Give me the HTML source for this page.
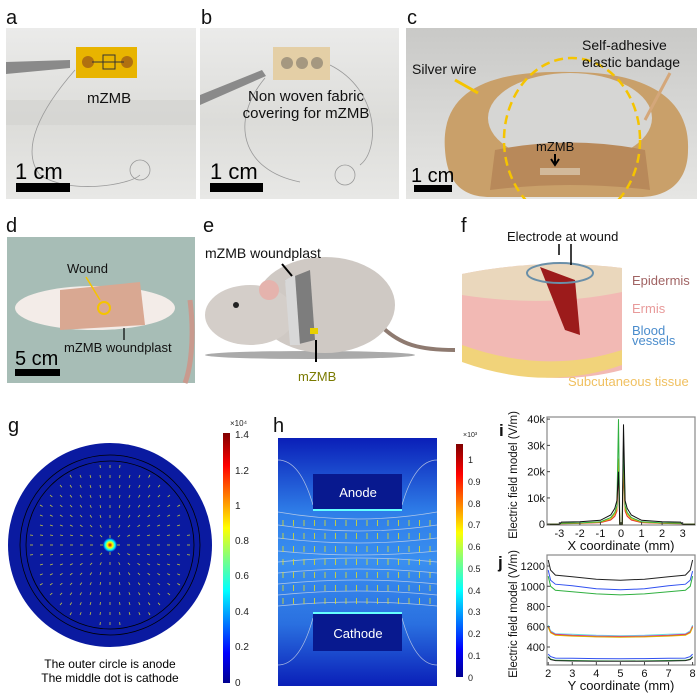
<!DOCTYPE html>
<html><head><meta charset="utf-8">
<style>
body{margin:0;background:#fff;}
svg{display:block;font-family:"Liberation Sans",Arial,sans-serif;}
</style></head>
<body>
<svg id="fig" width="700" height="694" viewBox="0 0 700 694" xmlns="http://www.w3.org/2000/svg">
<defs>
<linearGradient id="jet" x1="0" y1="1" x2="0" y2="0">
<stop offset="0" stop-color="#00008f"/><stop offset="0.12" stop-color="#0000ff"/><stop offset="0.37" stop-color="#00ffff"/><stop offset="0.5" stop-color="#7fff7f"/><stop offset="0.62" stop-color="#ffff00"/><stop offset="0.87" stop-color="#ff0000"/><stop offset="1" stop-color="#800000"/>
</linearGradient>
<linearGradient id="hfield" x1="0" y1="0" x2="0" y2="1">
<stop offset="0" stop-color="#0a1fb8"/><stop offset="0.3" stop-color="#2f7ee8"/><stop offset="0.5" stop-color="#3a8ff0"/><stop offset="0.75" stop-color="#2a70e0"/><stop offset="1" stop-color="#0a1fb8"/>
</linearGradient>
<linearGradient id="photoA" x1="0" y1="0" x2="0" y2="1"><stop offset="0" stop-color="#ebebea"/><stop offset="0.55" stop-color="#dcdcd9"/><stop offset="1" stop-color="#e8e8e6"/></linearGradient>
<linearGradient id="photoC" x1="0" y1="0" x2="0" y2="1"><stop offset="0" stop-color="#c9c9c7"/><stop offset="1" stop-color="#e6e6e4"/></linearGradient>
<radialGradient id="dot"><stop offset="0" stop-color="#c00"/><stop offset="0.4" stop-color="#ff0"/><stop offset="0.7" stop-color="#0ff"/><stop offset="1" stop-color="#0a1fb8"/></radialGradient>
<clipPath id="clipC"><rect x="406" y="28" width="291" height="171"/></clipPath>
</defs>

<!-- Panel labels -->
<g font-size="20" fill="#111">
<text x="6" y="24">a</text><text x="201" y="24">b</text><text x="407" y="24">c</text>
<text x="6" y="232">d</text><text x="203" y="232">e</text><text x="461" y="232">f</text>
<text x="8" y="432">g</text><text x="273" y="432">h</text>
<text x="499" y="436" font-size="17" font-weight="bold">i</text><text x="498" y="568" font-size="17" font-weight="bold">j</text>
</g>

<!-- Panel a -->
<g>
<rect x="6" y="28" width="190" height="171" fill="url(#photoA)"/>
<rect x="6" y="100" width="190" height="25" fill="#d2d2cf" opacity="0.6"/>
<path d="M6 62 L70 60 L70 68 L6 74 Z" fill="#8a8a8a"/>
<path d="M75 70 C40 110,20 150,40 175 C70 195,130 185,140 175" fill="none" stroke="#999" stroke-width="0.8"/>
<circle cx="140" cy="170" r="10" fill="none" stroke="#999" stroke-width="0.8"/>
<rect x="76" y="47" width="61" height="31" fill="#e8b400"/>
<circle cx="88" cy="62" r="6" fill="#b07010"/><circle cx="127" cy="62" r="6" fill="#b07010"/>
<rect x="103" y="55" width="12" height="14" fill="none" stroke="#333"/>
<line x1="92" y1="62" x2="124" y2="62" stroke="#333"/>
<text x="87" y="103" font-size="15" fill="#111">mZMB</text>
<text x="15" y="179" font-size="22" fill="#000">1 cm</text>
<rect x="16" y="183" width="54" height="9" fill="#000"/>
</g>

<!-- Panel b -->
<g>
<rect x="200" y="28" width="199" height="171" fill="url(#photoA)"/>
<path d="M200 95 L262 70 L266 76 L200 105 Z" fill="#8a8a8a"/>
<path d="M265 78 C230 120,240 170,300 182" fill="none" stroke="#999" stroke-width="0.8"/>
<path d="M330 65 C380 90,380 150,360 165" fill="none" stroke="#999" stroke-width="0.8"/>
<circle cx="345" cy="175" r="10" fill="none" stroke="#999" stroke-width="0.8"/>
<rect x="273" y="47" width="57" height="33" fill="#e4cfa6"/>
<circle cx="287" cy="63" r="6" fill="#8a8070" opacity="0.7"/><circle cx="302" cy="63" r="6" fill="#8a8070" opacity="0.7"/><circle cx="317" cy="63" r="6" fill="#8a8070" opacity="0.7"/>
<text x="306" y="101" font-size="15" text-anchor="middle" fill="#111">Non woven fabric</text>
<text x="306" y="118" font-size="15" text-anchor="middle" fill="#111">covering for mZMB</text>
<text x="210" y="179" font-size="22" fill="#000">1 cm</text>
<rect x="210" y="183" width="53" height="9" fill="#000"/>
</g>

<!-- Panel c -->
<g clip-path="url(#clipC)">
<rect x="406" y="28" width="291" height="171" fill="url(#photoC)"/>
<path d="M445 150 C440 90,490 70,570 72 C650 72,690 100,688 150 C688 180,670 197,640 197 L490 197 C460 197,447 180,445 150 Z" fill="#c9a06a"/>
<ellipse cx="570" cy="118" rx="82" ry="45" fill="#d6d6d4"/>
<path d="M495 150 Q570 135 645 150 L650 190 Q570 180 490 190 Z" fill="#b8895a"/>
<ellipse cx="572" cy="140" rx="68" ry="82" fill="none" stroke="#f5c400" stroke-width="2.5" stroke-dasharray="9 5"/>
<rect x="540" y="168" width="40" height="7" fill="#d2b99a"/>
<text x="412" y="74" font-size="14" fill="#111">Silver wire</text>
<line x1="455" y1="80" x2="478" y2="93" stroke="#f5c400" stroke-width="3"/>
<text x="582" y="50" font-size="14" fill="#111">Self-adhesive</text>
<text x="582" y="67" font-size="14" fill="#111">elastic bandage</text>
<line x1="670" y1="73" x2="645" y2="120" stroke="#d4a77a" stroke-width="3"/>
<text x="536" y="151" font-size="13" fill="#111">mZMB</text>
<path d="M555 154 L555 163 M551 159 L555 165 L559 159" stroke="#000" stroke-width="2" fill="none"/>
<text x="411" y="182" font-size="20" fill="#000">1 cm</text>
<rect x="414" y="185" width="38" height="7" fill="#000"/>
</g>

<!-- Panel d -->
<g>
<rect x="7" y="237" width="188" height="146" fill="#a7bdb6"/>
<ellipse cx="95" cy="308" rx="80" ry="22" fill="#f3ece8"/>
<path d="M60 290 L140 282 L145 325 L60 330 Z" fill="#d9a892"/>
<path d="M190 300 C195 340,190 370,185 383" stroke="#c99a8e" stroke-width="5" fill="none"/>
<circle cx="104" cy="308" r="6" fill="none" stroke="#f5c400" stroke-width="2"/>
<text x="67" y="273" font-size="13" fill="#111">Wound</text>
<line x1="86" y1="277" x2="100" y2="300" stroke="#f5c400" stroke-width="1.5"/>
<text x="64" y="352" font-size="13" fill="#111">mZMB woundplast</text>
<line x1="124" y1="328" x2="124" y2="340" stroke="#000" stroke-width="1.2"/>
<text x="15" y="365" font-size="20" fill="#000">5 cm</text>
<rect x="15" y="369" width="45" height="7" fill="#000"/>
</g>

<!-- Panel e -->
<g>
<ellipse cx="310" cy="355" rx="105" ry="4" fill="#555" opacity="0.5"/>
<path d="M380 325 C400 345,420 350,455 350" stroke="#8e7a70" stroke-width="4" fill="none"/>
<ellipse cx="325" cy="305" rx="70" ry="48" fill="#cfc9c4"/>
<ellipse cx="250" cy="315" rx="45" ry="30" fill="#d4cec9"/>
<circle cx="269" cy="290" r="10" fill="#e5b3ad"/>
<circle cx="236" cy="305" r="3" fill="#222"/>
<path d="M285 280 L310 270 L315 340 L295 345 Z" fill="#7d7d7d"/>
<path d="M285 280 L295 275 L300 345 L290 345 Z" fill="#d8d8d8"/>
<rect x="310" y="328" width="8" height="6" fill="#e8d000"/>
<text x="205" y="258" font-size="14" fill="#111">mZMB woundplast</text>
<path d="M282 264 L292 276" stroke="#000" stroke-width="2"/>
<path d="M316 340 L316 362" stroke="#000" stroke-width="2"/>
<text x="298" y="381" font-size="13" fill="#7a7a00">mZMB</text>
</g>

<!-- Panel f -->
<g>
<path d="M462 274 Q540 258 622 268 L622 370 Q545 390 462 360 Z" fill="#f2b9b4"/>
<path d="M462 274 Q540 258 622 268 L622 292 Q545 308 462 295 Z" fill="#ead7bc"/>
<path d="M462 345 Q545 375 622 350 L622 365 Q545 392 462 362 Z" fill="#f1d37a"/>
<path d="M540 267 L575 280 L580 335 L565 330 Z" fill="#9c1b1b"/>
<ellipse cx="560" cy="273" rx="33" ry="10" fill="none" stroke="#6a8fa8" stroke-width="2"/>
<text x="507" y="241" font-size="13" fill="#111">Electrode at wound</text>
<path d="M559 244 L559 255 M571 244 L571 265" stroke="#000" stroke-width="1.5"/>
<text x="632" y="285" font-size="13" fill="#a06363">Epidermis</text>
<text x="632" y="313" font-size="13" fill="#e89a9a">Ermis</text>
<text x="632" y="335" font-size="13" fill="#4a8ccc">Blood</text>
<text x="632" y="345" font-size="13" fill="#4a8ccc">vessels</text>
<text x="568" y="386" font-size="13" fill="#f0c060">Subcutaneous tissue</text>
</g>

<!-- Panel g -->
<g>
<circle cx="110" cy="545" r="102" fill="#0a1aa0"/>
<circle cx="110" cy="545" r="90" fill="none" stroke="#000" stroke-width="0.8"/>
<circle cx="110" cy="545" r="84" fill="none" stroke="#000" stroke-width="0.8"/>
<g id="garrows" stroke="#c8c840" stroke-width="0.8"></g>
<circle cx="110" cy="545" r="7" fill="url(#dot)"/>
<text x="110" y="668" font-size="12" text-anchor="middle" fill="#000">The outer circle is anode</text>
<text x="110" y="682" font-size="12" text-anchor="middle" fill="#000">The middle dot is cathode</text>
<rect x="223" y="433" width="7" height="250" fill="url(#jet)"/>
<g font-size="10" fill="#222">
<text x="230" y="426" font-size="8">×10⁴</text>
<text x="235" y="438">1.4</text><text x="235" y="474">1.2</text><text x="235" y="509">1</text>
<text x="235" y="544">0.8</text><text x="235" y="579">0.6</text><text x="235" y="615">0.4</text>
<text x="235" y="650">0.2</text><text x="235" y="686">0</text>
</g>
</g>

<!-- Panel h -->
<g>
<rect x="278" y="438" width="159" height="248" fill="url(#hfield)"/>
<g id="hlines" fill="none" stroke="#cfd8e8" stroke-width="0.7" opacity="0.8"></g>
<rect x="313" y="474" width="89" height="36" fill="#08198f"/>
<line x1="313" y1="510" x2="402" y2="510" stroke="#6ff" stroke-width="2"/>
<rect x="313" y="613" width="89" height="38" fill="#08198f"/>
<line x1="313" y1="613" x2="402" y2="613" stroke="#6ff" stroke-width="2"/>
<g id="harrows" stroke="#e0e020" stroke-width="0.8"></g>
<text x="358" y="497" font-size="13" text-anchor="middle" fill="#fff">Anode</text>
<text x="358" y="638" font-size="13" text-anchor="middle" fill="#fff">Cathode</text>
<rect x="456" y="444" width="7" height="233" fill="url(#jet)"/>
<g font-size="9" fill="#222">
<text x="463" y="437" font-size="7">×10³</text>
<text x="468" y="463">1</text><text x="468" y="485">0.9</text><text x="468" y="507">0.8</text>
<text x="468" y="528">0.7</text><text x="468" y="550">0.6</text><text x="468" y="572">0.5</text>
<text x="468" y="594">0.4</text><text x="468" y="615">0.3</text><text x="468" y="637">0.2</text>
<text x="468" y="659">0.1</text><text x="468" y="681">0</text>
</g>
</g>

<!-- Chart i -->
<g id="chartI"></g>
<!-- Chart j -->
<g id="chartJ"></g>
</svg>

<script>
// ---- Chart i data ----
const iX = [-3.6,-3.0,-2.9,-2.0,-1.0,-0.5,-0.3,-0.2,-0.12,-0.06,0.06,0.12,0.2,0.3,0.5,1.0,2.0,2.9,3.0,3.6];
const iBlack = [0,0,800,900,1500,3500,6000,9000,20000,0,0,38000,9000,6000,3500,1500,900,800,0,0];
const iGreen = [0,0,400,500,900,2500,4500,7000,40000,0,0,30000,7000,4500,2500,900,500,400,0,0];
const iYellow = [0,0,300,400,800,2000,3800,6000,25000,0,0,25000,6000,3800,2000,800,400,300,0,0];
const iRed = [0,0,200,300,600,1600,3000,5000,20000,0,0,20000,5000,3000,1600,600,300,200,0,0];
const iYTicks = [0,10000,20000,30000,40000];
const iYTickLabels = ["0","10k","20k","30k","40k"];
const iXTicks = [-3,-2,-1,0,1,2,3];
// ---- Chart j data ----
const jX = [2.0,2.1,2.3,3,4,5,6,7,7.7,7.9,8.0];
const jBlack = [1260,1160,1110,1095,1070,1060,1070,1095,1110,1160,1260];
const jBlue = [1160,1060,1020,1005,975,965,975,1005,1020,1060,1150];
const jGreen = [1100,1000,960,945,925,915,925,945,960,1000,1100];
const jCyan = [615,560,530,525,515,512,515,525,530,560,615];
const jMagenta = [605,550,525,515,508,505,508,515,525,550,605];
const jRed = [600,545,520,512,503,500,503,512,520,545,600];
const jYellow = [595,540,515,508,500,497,500,508,515,540,595];
const jBlueLow = [330,305,290,288,285,284,285,288,290,305,330];
const jGreenLow = [305,280,268,266,263,262,263,266,268,280,305];
const jBlackLow = [300,275,265,262,260,259,260,262,265,275,300];
const jYTicks = [400,600,800,1000,1200];
const jXTicks = [2,3,4,5,6,7,8];

const NS="http://www.w3.org/2000/svg";
function mk(tag,attrs,parent){const e=document.createElementNS(NS,tag);for(const k in attrs)e.setAttribute(k,attrs[k]);parent.appendChild(e);return e;}

function drawChart(g,opt){
  const {x0,x1,y0,y1,xd,yd}=opt;
  const sx=v=>x0+(v-xd[0])/(xd[1]-xd[0])*(x1-x0);
  const sy=v=>y1-(v-yd[0])/(yd[1]-yd[0])*(y1-y0);
  const frame=mk('rect',{x:x0,y:y0,width:x1-x0,height:y1-y0,fill:'#fff',stroke:'#888','stroke-width':1.2},g);
  
  
  opt.series.forEach(s=>{
    const d=s.y.map((v,i)=>(i?'L':'M')+sx(opt.x[i]).toFixed(1)+' '+sy(v).toFixed(1)).join(' ');
    const p=mk('path',{d:d,fill:'none',stroke:s.c,'stroke-width':1},g);
    
    
  });
  opt.yt.forEach((v,i)=>{
    mk('line',{x1:x0,x2:x0+3,y1:sy(v),y2:sy(v),stroke:'#444'},g);
    const t=mk('text',{x:x0-2,y:sy(v)+4,'font-size':11,'text-anchor':'end',fill:'#111'},g);
    t.textContent=opt.ytl?opt.ytl[i]:String(v);
    
    
  });
  opt.xt.forEach(v=>{
    mk('line',{x1:sx(v),x2:sx(v),y1:y1,y2:y1-3,stroke:'#444'},g);
    const t=mk('text',{x:sx(v),y:y1+12,'font-size':11,'text-anchor':'middle',fill:'#111'},g);
    t.textContent=String(v);
    
    
  });
  const xl=mk('text',{x:(x0+x1)/2,y:y1+25,'font-size':13,'text-anchor':'middle',fill:'#111'},g);
  xl.textContent=opt.xlabel;
  
  
  const yc=(y0+y1)/2+4;
  const yl=mk('text',{x:opt.ylx,y:yc,'font-size':11.5,'text-anchor':'middle',fill:'#111',transform:`rotate(-90 ${opt.ylx} ${yc})`},g);
  yl.textContent='Electric field model (V/m)';
  
  
}

drawChart(document.getElementById('chartI'),{name:'i',x0:547,x1:695,y0:417,y1:525,xd:[-3.6,3.6],yd:[-300,40800],
  x:iX,series:[{n:'red',c:'#e03030',y:iRed},{n:'yellow',c:'#e0b000',y:iYellow},{n:'green',c:'#30b040',y:iGreen},{n:'black',c:'#111',y:iBlack}],
  yt:iYTicks,ytl:iYTickLabels,xt:iXTicks,xlabel:'X coordinate (mm)',ylx:517});
drawChart(document.getElementById('chartJ'),{name:'j',x0:547,x1:695,y0:555,y1:665,xd:[1.95,8.1],yd:[222,1309],
  x:jX,series:[{n:'black',c:'#222',y:jBlack},{n:'blue',c:'#3050f0',y:jBlue},{n:'green',c:'#30b040',y:jGreen},
  {n:'cyan',c:'#60e0e0',y:jCyan},{n:'magenta',c:'#d040d0',y:jMagenta},{n:'red',c:'#e03030',y:jRed},{n:'yellow',c:'#e0b000',y:jYellow},
  {n:'blue-low',c:'#3050f0',y:jBlueLow},{n:'green-low',c:'#30b040',y:jGreenLow},{n:'black-low',c:'#222',y:jBlackLow}],
  yt:jYTicks,xt:jXTicks,xlabel:'Y coordinate (mm)',ylx:517});

// decorative arrows for g (radial field)
const ga=document.getElementById('garrows');
for(let gx=-80;gx<=80;gx+=10)for(let gy=-80;gy<=80;gy+=10){
  const r=Math.hypot(gx,gy);if(r<8||r>82)continue;
  const ux=gx/r,uy=gy/r,cx=110+gx,cy=545+gy;
  mk('line',{x1:cx,y1:cy,x2:cx-ux*3,y2:cy-uy*3},ga);
}
// decorative arrows/lines for h
const ha=document.getElementById('harrows');
for(let ax=283;ax<437;ax+=10.5)for(let ay=520;ay<605;ay+=13){
  mk('line',{x1:ax,y1:ay,x2:ax,y2:ay+6},ha);
}
const hl=document.getElementById('hlines');
for(let k=0;k<9;k++){
  const yy=518+k*11;
  mk('path',{d:`M278 ${yy+(k<4?-6+k*2:0)} Q358 ${yy+(k<4?8:-8)} 437 ${yy+(k<4?-6+k*2:0)}`},hl);
}
mk('path',{d:'M278 460 Q300 460 313 505'},hl);
mk('path',{d:'M437 460 Q415 460 402 505'},hl);
mk('path',{d:'M278 665 Q300 665 313 618'},hl);
mk('path',{d:'M437 665 Q415 665 402 618'},hl);
</script>
</body></html>
